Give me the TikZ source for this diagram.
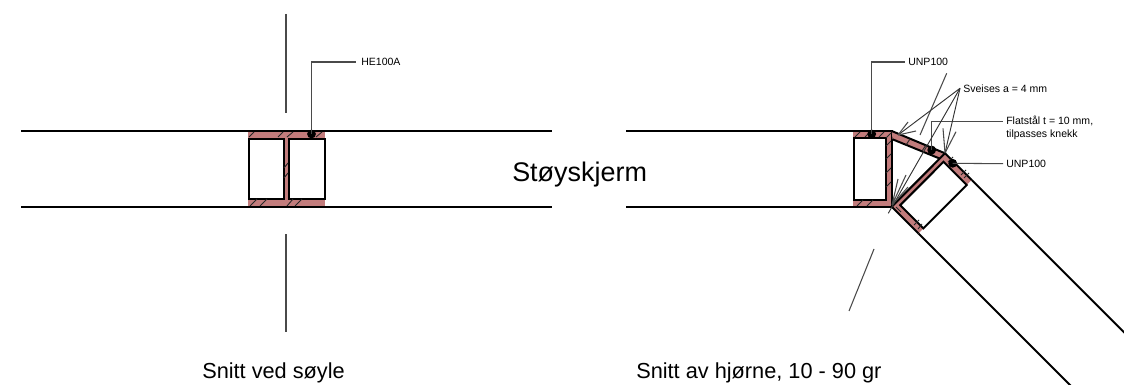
\documentclass[tikz,border=0pt]{standalone}
\usepackage{fontspec}
\setmainfont{Liberation Sans}
\definecolor{steelpink}{HTML}{C27C7C}
\definecolor{leadgray}{HTML}{4A4A4A}
\tikzset{
  x=0.75pt,y=-0.75pt,
  obj/.style={draw=black,line width=1.5pt,line join=miter},
  steel/.style={fill=steelpink,draw=black,line width=1.5pt,line join=miter},
  hatch/.style={draw=black!85,line width=0.65pt},
  lead/.style={draw=leadgray,line width=0.8pt},
  thin lead/.style={draw=black!80,line width=0.7pt},
  axisline/.style={draw=leadgray,line width=0.8pt},
  dotmark/.style={circle,fill=black,inner sep=0pt,minimum size=6.6pt},
  small/.style={font=\fontsize{7.9pt}{9.6pt}\selectfont,anchor=west,inner sep=0pt,align=left},
  big/.style={font=\fontsize{20.2pt}{24pt}\selectfont,anchor=west,inner sep=0pt},
  mid/.style={font=\fontsize{16.3pt}{19pt}\selectfont,anchor=west,inner sep=0pt},
}
\begin{document}
\begin{tikzpicture}
\useasboundingbox (0,0) rectangle (1124,385);
\clip (0,0) rectangle (1124,385);
% ---------- left section
\draw[obj] (21,131) -- (248,131) (325,131) -- (552,131);
\draw[obj] (21,206.5) -- (248,206.5) (325,206.5) -- (552,206.5);
\fill[steelpink] (248,131) rectangle (325,206.5);
\draw[obj,fill=white] (248.5,139) rectangle (284,199);
\draw[obj,fill=white] (288.5,139) rectangle (324.5,199);
\draw[obj] (248,131) -- (325,131) (248,206.5) -- (325,206.5);
\draw[hatch] (249,137) -- (254,132) (278,137) -- (283,132) (287,137) -- (293,132) (316,137) -- (322,132);
\draw[hatch] (250,206) -- (257,199) (260,206) -- (267,199) (287,206) -- (293,199) (295,206) -- (302,199);
\draw[hatch] (284,168) -- (288,163) (284,178) -- (288,173);
\draw[axisline] (286,14) -- (286,113) (286,234) -- (286,332);
\node[dotmark] (heDot) at (311.5,134) {};
\node[small] (heText) at (361,62) {HE100A};
\coordinate (heEnd) at (356,62);
\draw[lead] (heDot.center) |- (heEnd);
% ---------- right section
\draw[obj] (626,131) -- (853,131);
\draw[obj] (626,206.5) -- (853,206.5);
% long panel lines
\draw[obj] (918.4,233.4) -- (1072,387);
\draw[obj] (971.7,180) -- (1127,335.3);
% UNP channel 1
\fill[steelpink] (853,131) -- (891.7,131) -- (891.7,206.7) -- (853,206.7) -- cycle;
\draw[obj,fill=white] (853.5,137.5) rectangle (886,200);
\draw[obj] (853,131) -- (891.7,131) -- (891.7,206.7) -- (853,206.7);
% flat steel
\draw[steel] (891.7,131) -- (945,153.3) -- (941.5,159.3) -- (892.5,139.3);
% UNP channel 2 (rotated)
\fill[steelpink] (891.7,206.7) -- (945,153.3) -- (971.7,180) -- (918.4,233.4) -- cycle;
\draw[obj,fill=white] (900.2,205.2) -- (943.5,161.8) -- (966.7,185) -- (923.4,228.4) -- cycle;
\draw[obj] (918.4,233.4) -- (891.7,206.7) -- (945,153.3) -- (971.7,180);
% hatching
\draw[hatch] (855,137) -- (860,132) (865,137) -- (870,132) (879,137) -- (884,132);
\draw[hatch] (857,206) -- (863,200) (867,206) -- (873,200);
\draw[hatch] (886,146) -- (891,141) (886,159) -- (891,154) (886,173) -- (891,168) (886,187) -- (891,182) (886,138) -- (891,133);
\draw[hatch] (906,145) -- (910,139) (922,151) -- (926,145) (932,155) -- (936,149);
\draw[hatch] (896,207) -- (901,212) (914,225) -- (919,220) (918,229) -- (922,224);
\draw[hatch] (948,162) -- (953,157) (964,178) -- (969,173) (961,175) -- (966,170);
% section axis
\draw[axisline] (946.7,73.3) -- (920,135) (874,249) -- (849,311);
% leaders
\node[dotmark] (unpDotA) at (871.7,134) {};
\node[small] (unpTextA) at (908,62) {UNP100};
\draw[lead] (unpDotA.center) -- (871.7,62) -- (905,62);
\node[dotmark] (flatDot) at (931.7,150) {};
\node[small] (flatText) at (1006,128) {Flatstål t = 10 mm,\\tilpasses knekk};
\draw[lead] (flatDot.center) -- (931.7,121.7) -- (1003,121.7);
\node[dotmark] (unpDotB) at (952.7,163.3) {};
\node[small] (unpTextB) at (1006,164) {UNP100};
\draw[lead] (unpDotB.center) -- (1003,163.7);
\node[small] (sveis) at (963,89) {Sveises a = 4 mm};
\coordinate (apex) at (960,88.3);
\coordinate (weldA) at (898,135);
\coordinate (weldB) at (945,153);
\coordinate (weldC) at (888.3,213.3);
\coordinate (weldD) at (892,205);
\draw[thin lead] (apex) -- (weldA);
\draw[thin lead] (apex) -- (weldB);
\draw[thin lead] (apex) -- (weldC);
\draw[lead] (weldA) -- (908,122) (weldA) -- (916,131);
\draw[lead] (weldB) -- (943,128.3) (weldB) -- (956,131.7);
\draw[lead] (weldD) -- (898,179) (weldD) -- (906,175) (weldD) -- (908,187);
% titles
\node[big] (sk) at (512,175) {Støyskjerm};
\node[mid] (t1) at (202,373) {Snitt ved søyle};
\node[mid] (t2) at (636,373) {Snitt av hjørne, 10 - 90 gr};
\end{tikzpicture}
\end{document}
